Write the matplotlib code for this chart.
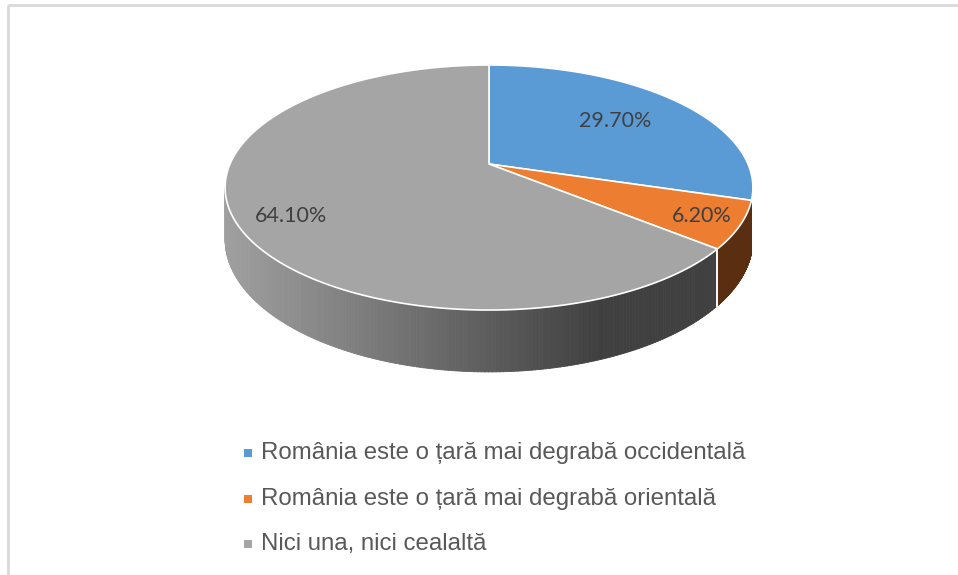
import numpy as np
import matplotlib.pyplot as plt
from matplotlib.patches import Polygon, Rectangle
from matplotlib.collections import PolyCollection
from matplotlib.colors import to_rgb

# date
categorii = ['România este o țară mai degrabă occidentală',
             'România este o țară mai degrabă orientală',
             'Nici una, nici cealaltă']
procente = [29.70, 6.20, 64.10]
culori = ['#5b9bd5', '#ed7d31', '#a5a5a5']
culori_lateral = [('#3a6d9c', '#2f5a80'), ('#5f3112', '#5a2e10'), ('#a0a0a0', '#404040')]

# geometria pie-ului 3D (pixeli)
cx, cy = 489, 164          # centrul feliilor
A, B = 259, 118            # semiaxe
k = 0.192                  # perspectiva
D0 = 50                    # grosime
raza_etichete = [0.65, 0.86, 0.79]
nudge_y = [0, 0, 9]


def proiectie(phi, r=1.0):
    u = r * np.cos(phi)
    v = r * np.sin(phi)
    d = 1 + k * v
    return cx + A * u / d, cy - B * v / d


fig = plt.figure(figsize=(9.58, 5.75), dpi=100)
ax = fig.add_axes([0, 0, 1, 1])
ax.set_xlim(0, 958)
ax.set_ylim(575, 0)
ax.axis('off')

# chenar
ax.add_patch(Rectangle((8.5, 4.5), 980, 600, fill=False, edgecolor='#d9d9d9', lw=2))

# unghiurile feliilor (de la ora 12, in sensul acelor de ceasornic)
fr = np.array(procente) / sum(procente)
limite = np.pi / 2 - 2 * np.pi * np.concatenate([[0], np.cumsum(fr)])

# partea laterala vizibila: prin fata, de la stanga pana la inceputul feliei a doua
phi_dr = min(-np.arcsin(k), limite[1])
phi_st = np.pi + np.arcsin(k)
x_min, _ = proiectie(phi_st)

for i in range(len(procente)):
    a0, a1 = limite[i], limite[i + 1]   # a0 > a1
    lo, hi = phi_st - 2 * np.pi, phi_dr
    s0, s1 = a1, a0
    while s1 > hi + 1e-9 and s0 > hi:
        s0 -= 2 * np.pi
        s1 -= 2 * np.pi
    s0c, s1c = max(s0, lo), min(s1, hi)
    if s1c <= s0c + 1e-9:
        continue
    ph = np.linspace(s0c, s1c, 200)
    xs, ys = proiectie(ph)
    ds = D0 / (1 + k * np.sin(ph))
    c0, c1 = np.array(to_rgb(culori_lateral[i][0])), np.array(to_rgb(culori_lateral[i][1]))
    quads, cols = [], []
    for j in range(len(ph) - 1):
        quads.append([(xs[j], ys[j]), (xs[j + 1], ys[j + 1]),
                      (xs[j + 1], ys[j + 1] + ds[j + 1]), (xs[j], ys[j] + ds[j])])
        t = np.clip(((xs[j] + xs[j + 1]) / 2 - x_min) / (600 - x_min), 0, 1)
        cols.append(c0 + (c1 - c0) * t)
    ax.add_collection(PolyCollection(quads, facecolors=cols, edgecolors=cols, linewidths=0.6))
    # linie alba la marginea feliei
    for s in (s0, s1):
        if lo < s < hi:
            px, py = proiectie(s)
            ax.plot([px, px], [py, py + D0 / (1 + k * np.sin(s))], color='white', lw=1.2)

# fata de sus
for i in range(len(procente)):
    ph = np.linspace(limite[i], limite[i + 1], 300)
    xs, ys = proiectie(ph)
    pts = [(cx, cy)] + list(zip(xs, ys))
    ax.add_patch(Polygon(pts, closed=True, facecolor=culori[i], edgecolor='white', lw=1.2))

# etichete
for i, p in enumerate(procente):
    mid = (limite[i] + limite[i + 1]) / 2
    x, y = proiectie(mid, raza_etichete[i])
    ax.text(x, y + nudge_y[i], f'{p:.2f}%', ha='center', va='center',
            fontsize=15.5, color='#404040', family='Lato')

# legenda
ly0, dy = 453, 45.5
for i, nume in enumerate(categorii):
    y = ly0 + i * dy
    ax.add_patch(Rectangle((244.5, y - 4), 8, 8, facecolor=culori[i], edgecolor='none'))
    ax.text(261, y, nume, ha='left', va='center', fontsize=17.3, color='#595959',
            family='Liberation Sans')

fig.savefig('out.png', dpi=100)
